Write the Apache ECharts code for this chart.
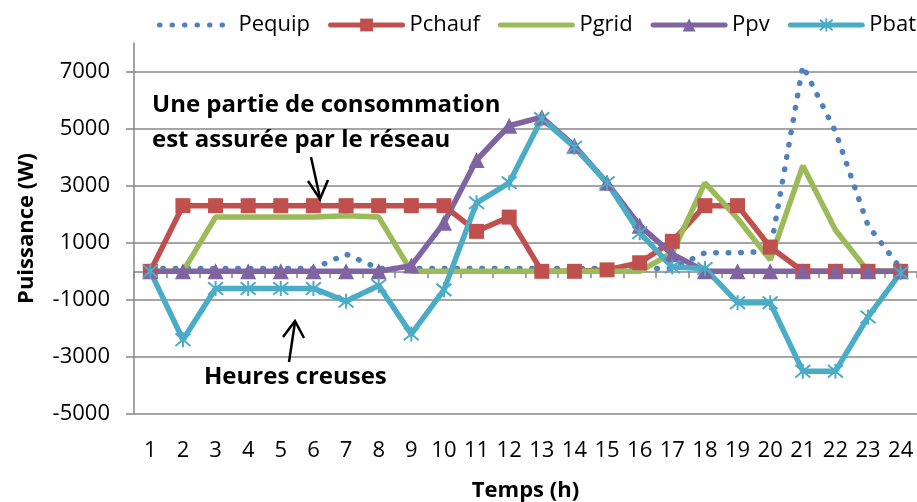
<!DOCTYPE html>
<html>
<head>
<meta charset="utf-8">
<script src="https://cdn.jsdelivr.net/npm/echarts@6/dist/echarts.min.js"></script>
<style>
  html, body { margin: 0; padding: 0; background: #fff; }
  #chart { width: 917px; height: 502px; }
</style>
</head>
<body>
<div id="chart"></div>
<script>
// Hours of the day (category axis)
const hours = ['1','2','3','4','5','6','7','8','9','10','11','12',
               '13','14','15','16','17','18','19','20','21','22','23','24'];

// Power flows per hour, in W
const pequip = [100,100,100,100,100,100,600,100,100,100,100,100,100,100,100,100,100,650,650,700,7200,4900,1600,100];
const pchauf = [0,2300,2300,2300,2300,2300,2300,2300,2300,2300,1400,1900,0,0,50,300,1050,2300,2300,850,0,0,0,0];
const pgrid  = [0,0,1900,1900,1900,1900,1950,1900,0,0,0,0,0,0,0,0,650,3100,1850,400,3700,1450,0,0];
const ppv    = [0,0,0,0,0,0,0,0,200,1700,3900,5100,5400,4400,3100,1600,600,0,0,0,0,0,0,0];
const pbat   = [0,-2400,-600,-600,-600,-600,-1050,-500,-2200,-650,2400,3100,5350,4350,3100,1350,150,100,-1100,-1100,-3500,-3500,-1600,-50];

// Value-axis tick labels
const yTicks = [-5000,-3000,-1000,1000,3000,5000,7000];

const FONT = 'Open Sans';
const GRID = '#878787';
const C_EQUIP = '#4F81BD', C_CHAUF = '#C0504D', C_GRID = '#9BBB59', C_PV = '#8064A2', C_BAT = '#4BACC6';
const ASTERISK = 'path://M0,0L10,10M10,0L0,10M5,-1L5,11';
const LW = 5.5;

const chart = echarts.init(document.getElementById('chart'), null, { renderer: 'canvas' });

function lineSeries(name, data, color, symbol, size, extra) {
  return Object.assign({
    name, type: 'line', data,
    xAxisIndex: 0,
    symbol, symbolSize: size,
    showSymbol: symbol !== 'none',
    lineStyle: { color, width: LW },
    itemStyle: { color, borderWidth: 0 },
    emphasis: { disabled: true },
    animation: false,
    z: 3
  }, extra || {});
}

chart.setOption({
  animation: false,
  textStyle: { fontFamily: FONT },
  grid: { left: 134, right: 0, top: 43, bottom: 88, containLabel: false, outerBoundsMode: 'none' },
  legend: {
    left: 157, top: 14, width: 820, padding: 0,
    itemWidth: 72, itemHeight: 16, itemGap: 18,
    lineStyle: { width: 5, cap: 'round' },
    textStyle: { fontFamily: FONT, fontSize: 22, color: '#000', padding: [0, 0, 0, 2] },
    data: [
      { name: 'Pequip', itemStyle: { opacity: 0 } },
      'Pchauf',
      { name: 'Pgrid', itemStyle: { opacity: 0 } },
      'Ppv',
      'Pbat'
    ]
  },
  xAxis: [
    {
      type: 'category', data: hours, boundaryGap: true, position: 'bottom',
      axisLine: { show: false, onZero: false },
      axisTick: { show: false },
      axisLabel: { interval: 0, margin: 26, fontFamily: FONT, fontSize: 22, color: '#000' },
      splitLine: { show: false },
      name: 'Temps (h)', nameLocation: 'middle', nameGap: 66,
      nameTextStyle: { fontFamily: FONT, fontSize: 22, fontWeight: 'bold', color: '#000' }
    },
    {
      type: 'category', data: hours, boundaryGap: true, position: 'bottom',
      axisLine: { show: true, onZero: true, lineStyle: { color: GRID, width: 1.5 } },
      axisTick: { show: true, length: 7, interval: 0, lineStyle: { color: GRID, width: 1.5 } },
      axisLabel: { show: false },
      splitLine: { show: false }
    }
  ],
  yAxis: {
    type: 'value', min: -5000, max: 8000, interval: 2000,
    axisLine: { show: true, lineStyle: { color: GRID, width: 1.5 } },
    axisTick: { show: true, length: 8, customValues: yTicks, lineStyle: { color: GRID, width: 1.5 } },
    axisLabel: { customValues: yTicks, margin: 24, fontFamily: FONT, fontSize: 22, color: '#000',
                 formatter: v => String(v) },
    splitLine: { show: true, lineStyle: { color: GRID, width: 1.5 } },
    name: 'Puissance (W)', nameLocation: 'middle', nameGap: 96,
    nameTextStyle: { fontFamily: FONT, fontSize: 22, fontWeight: 'bold', color: '#000' }
  },
  series: [
    lineSeries('Pequip', pequip, C_EQUIP, 'none', 0, {
      lineStyle: { color: C_EQUIP, width: 5.5, type: [0.5, 12], cap: 'round' }
    }),
    lineSeries('Pchauf', pchauf, C_CHAUF, 'rect', 15),
    lineSeries('Pgrid', pgrid, C_GRID, 'none', 0),
    lineSeries('Ppv', ppv, C_PV, 'triangle', 16),
    lineSeries('Pbat', pbat, C_BAT, ASTERISK, 15, {
      itemStyle: { color: C_BAT, borderColor: C_BAT, borderWidth: 2 }
    })
  ],
  graphic: [
    { type: 'text', left: 152, top: 93, z: 10,
      style: { text: 'Une partie de consommation', fontFamily: FONT, fontSize: 24, fontWeight: 'bold', fill: '#000' } },
    { type: 'text', left: 152, top: 128, z: 10,
      style: { text: 'est assurée par le réseau', fontFamily: FONT, fontSize: 24, fontWeight: 'bold', fill: '#000' } },
    { type: 'line', z: 10, shape: { x1: 311, y1: 157, x2: 320, y2: 198 }, style: { stroke: '#000', lineWidth: 2.5 } },
    { type: 'polyline', z: 10, shape: { points: [[308, 181], [320, 199], [328, 180]] }, style: { stroke: '#000', lineWidth: 2.5, fill: null } },
    { type: 'text', left: 204, top: 365, z: 10,
      style: { text: 'Heures creuses', fontFamily: FONT, fontSize: 24, fontWeight: 'bold', fill: '#000' } },
    { type: 'line', z: 10, shape: { x1: 289, y1: 362, x2: 295, y2: 322 }, style: { stroke: '#000', lineWidth: 2.5 } },
    { type: 'polyline', z: 10, shape: { points: [[283, 337], [295, 321], [304, 338]] }, style: { stroke: '#000', lineWidth: 2.5, fill: null } }
  ]
});
</script>
</body>
</html>
